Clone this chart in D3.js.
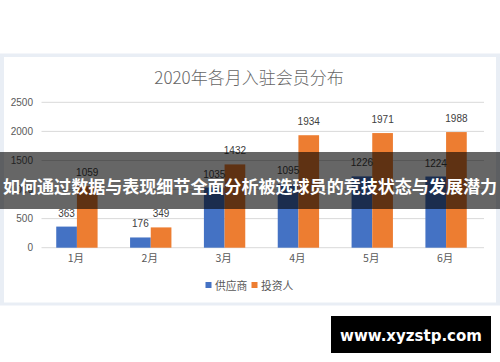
<!DOCTYPE html>
<html>
<head>
<meta charset="utf-8">
<script src="https://cdn.jsdelivr.net/npm/d3@7"></script>
<style>
  html, body { margin: 0; padding: 0; background: #ffffff; }
  svg { display: block; }
</style>
</head>
<body>
<svg id="chart" width="500" height="362"></svg>
<script>
const title = "2020年各月入驻会员分布";
const months = ["1月", "2月", "3月", "4月", "5月", "6月"];
const seriesNames = ["供应商", "投资人"];
const suppliers = [363, 176, 1035, 1095, 1226, 1224];
const investors = [1059, 349, 1432, 1934, 1971, 1988];
const yTicks = [0, 500, 1000, 1500, 2000, 2500];
const bannerText = "如何通过数据与表现细节全面分析被选球员的竞技状态与发展潜力";
const watermark = "www.xyzstp.com";

const colors = ["#4472C4", "#ED7D31"];
const svg = d3.select("#chart");
const cjk = "'Noto Sans CJK SC', 'Noto Sans', sans-serif";
const num = "'Liberation Sans', Arial, sans-serif";

// frame
svg.append("rect").attr("x", 0).attr("y", 53.5).attr("width", 500).attr("height", 252).attr("fill", "#e9eef5");
svg.append("rect").attr("x", 4).attr("y", 57).attr("width", 492).attr("height", 245.5).attr("fill", "#ffffff");

const x0 = d3.scaleBand().domain(months).range([40, 483]).paddingInner(0.44).paddingOuter(0.22);
const x1 = d3.scaleBand().domain(seriesNames).range([0, x0.bandwidth()]);
const y = d3.scaleLinear().domain([0, 2500]).range([247.7, 102.3]);

// gridlines
svg.append("g").selectAll("line").data(yTicks).join("line")
  .attr("x1", 41.5).attr("x2", 484)
  .attr("y1", d => y(d)).attr("y2", d => y(d))
  .attr("stroke", "#d9d9d9").attr("stroke-width", 1);

// y axis labels
const yAxis = d3.axisLeft(y).tickValues(yTicks).tickFormat(d3.format("d")).tickSize(0).tickPadding(0);
const yg = svg.append("g").attr("transform", "translate(33,0)").call(yAxis);
yg.select(".domain").remove();
yg.selectAll("text").attr("font-family", num).attr("font-size", 10).attr("fill", "#595959");

// x axis labels
const xAxis = d3.axisBottom(x0).tickSize(0).tickPadding(0);
const xg = svg.append("g").attr("transform", "translate(-1,255)").call(xAxis);
xg.select(".domain").remove();
xg.selectAll("text").attr("font-family", cjk).attr("font-size", 10.5).attr("fill", "#595959");

// bars
const data = months.map((m, i) => ({ m, vals: [suppliers[i], investors[i]] }));
const groups = svg.append("g").selectAll("g").data(data).join("g")
  .attr("transform", d => `translate(${x0(d.m)},0)`);
groups.selectAll("rect").data(d => d.vals.map((v, k) => ({ v, k }))).join("rect")
  .attr("x", d => x1(seriesNames[d.k]))
  .attr("width", x1.bandwidth())
  .attr("y", d => y(d.v))
  .attr("height", d => y(0) - y(d.v))
  .attr("fill", d => colors[d.k]);
groups.selectAll("text").data(d => d.vals.map((v, k) => ({ v, k }))).join("text")
  .attr("x", d => x1(seriesNames[d.k]) + x1.bandwidth() / 2)
  .attr("y", d => y(d.v) - 10)
  .attr("text-anchor", "middle")
  .attr("font-family", num).attr("font-size", 10).attr("fill", "#404040")
  .text(d => d.v);

// title
svg.append("text").attr("x", 249).attr("y", 76.5).attr("text-anchor", "middle")
  .attr("dominant-baseline", "central")
  .attr("font-family", cjk).attr("font-weight", 300).attr("font-size", 17).attr("fill", "#666666").text(title);

// legend
const lg = svg.append("g");
const legendX = [205.5, 251.5];
seriesNames.forEach((n, i) => {
  lg.append("rect").attr("x", legendX[i]).attr("y", 282).attr("width", 6).attr("height", 6).attr("fill", colors[i]);
  lg.append("text").attr("x", legendX[i] + 9.5).attr("y", 285).attr("dominant-baseline", "central")
    .attr("font-family", cjk).attr("font-size", 10.8).attr("fill", "#595959").text(n);
});

// banner overlay
svg.append("rect").attr("x", 0).attr("y", 152).attr("width", 500).attr("height", 57).attr("fill", "rgba(0,0,0,0.6)");
svg.append("text").attr("x", 250).attr("y", 185.5).attr("text-anchor", "middle").attr("dominant-baseline", "central")
  .attr("font-family", cjk).attr("font-weight", "bold").attr("font-size", 17).attr("fill", "#ffffff")
  .attr("textLength", 494).attr("lengthAdjust", "spacingAndGlyphs")
  .text(bannerText);

// watermark
svg.append("rect").attr("x", 331).attr("y", 316).attr("width", 160).attr("height", 37).attr("fill", "#000000");
svg.append("text").attr("x", 411).attr("y", 336).attr("text-anchor", "middle").attr("dominant-baseline", "central")
  .attr("font-family", "'DejaVu Sans', Verdana, sans-serif")
  .attr("font-weight", "bold").attr("font-size", 15).attr("fill", "#ffffff")
  .text(watermark);
</script>
</body>
</html>
